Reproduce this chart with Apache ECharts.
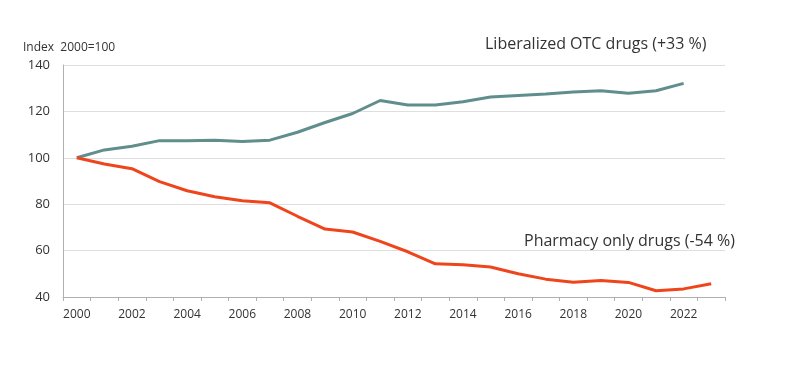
<!DOCTYPE html>
<html>
<head>
<meta charset="utf-8">
<script src="https://cdn.jsdelivr.net/npm/echarts@6/dist/echarts.min.js"></script>
<style>html,body{margin:0;padding:0;background:#fff}#c{width:800px;height:374px}</style>
</head>
<body>
<div id="c"></div>
<script>
const years = ['2000','2001','2002','2003','2004','2005','2006','2007','2008','2009','2010','2011','2012','2013','2014','2015','2016','2017','2018','2019','2020','2021','2022','2023'];
const otcValues = [100,103.4,105,107.4,107.4,107.6,107,107.6,111,115.2,119.1,124.7,122.8,122.8,124.2,126.2,126.9,127.5,128.4,128.9,127.8,128.9,132.1,null];
const pharmacyValues = [100,97.3,95.3,89.7,85.8,83.2,81.5,80.6,74.8,69.3,68,64,59.5,54.3,53.9,52.9,50,47.7,46.4,47.1,46.3,42.7,43.5,45.7];
const yTicks = [40,60,80,100,120,140];
const unitLabel = 'Index  2000=100';
const otcLabel = 'Liberalized OTC drugs (+33 %)';
const pharmacyLabel = 'Pharmacy only drugs (-54 %)';

const font = '"Open Sans", "Noto Sans", sans-serif';
const chart = echarts.init(document.getElementById('c'), null, {renderer:'canvas'});
chart.setOption({
  animation: false,
  backgroundColor: '#fff',
  textStyle: {fontFamily: font},
  grid: {left: 63, right: 75, top: 65, bottom: 77},
  xAxis: {
    type: 'category',
    data: years,
    boundaryGap: true,
    axisLine: {lineStyle: {color: '#b0b0b0', width: 1}},
    axisTick: {show: true, interval: 0, length: 4, lineStyle: {color: '#b0b0b0'}},
    axisLabel: {interval: 1, color: '#333', fontSize: 12, fontFamily: font, margin: 12}
  },
  yAxis: {
    type: 'value',
    min: yTicks[0], max: yTicks[yTicks.length-1], interval: 20,
    axisLine: {show: true, lineStyle: {color: '#b0b0b0', width: 1}},
    axisTick: {show: false},
    splitLine: {lineStyle: {color: '#dedede', width: 1}},
    axisLabel: {color: '#333', fontSize: 13, fontFamily: font, margin: 13}
  },
  series: [
    {name: otcLabel, type: 'line', data: otcValues, symbol: 'none', lineStyle: {color: '#5f8e8c', width: 3}, itemStyle:{color:'#5f8e8c'}},
    {name: pharmacyLabel, type: 'line', data: pharmacyValues, symbol: 'none', lineStyle: {color: '#ef451c', width: 3}, itemStyle:{color:'#ef451c'}}
  ],
  graphic: [
    {type: 'text', left: 23, top: 42, style: {text: unitLabel, fill: '#333', font: '12px ' + font}},
    {type: 'text', left: 485, top: 36, style: {text: otcLabel, fill: '#333', font: '16px ' + font}},
    {type: 'text', left: 524, top: 233, style: {text: pharmacyLabel, fill: '#333', font: '16px ' + font}}
  ]
});
</script>
</body>
</html>
